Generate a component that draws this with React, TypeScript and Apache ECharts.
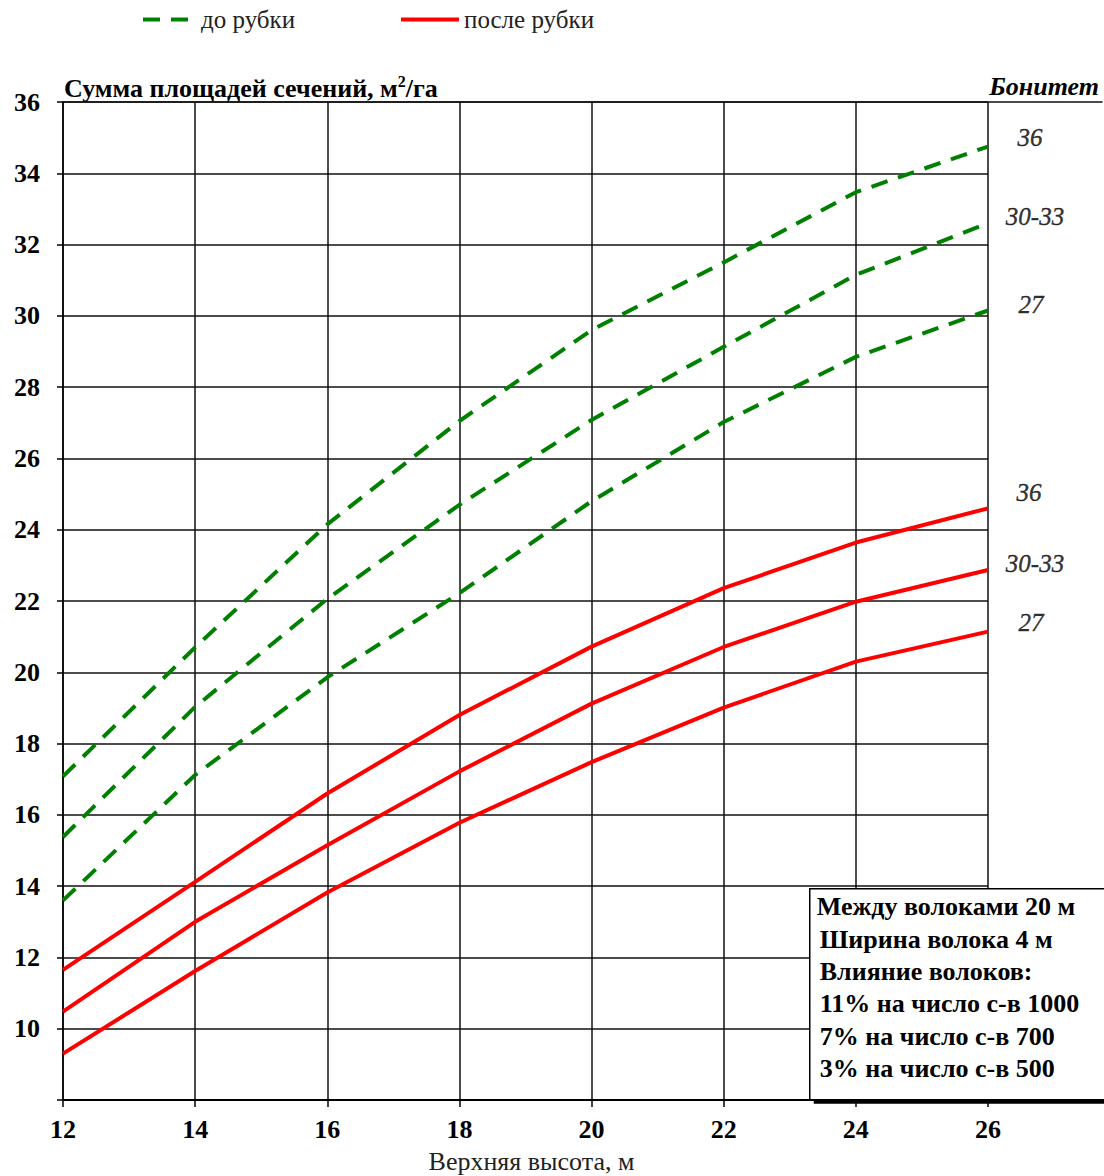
import React, { useEffect, useRef } from 'react';
import * as echarts from 'echarts';

// Верхняя высота, м
const heights = [12, 14, 16, 18, 20, 22, 24, 26];
// до рубки (бонитет 36, 30-33, 27)
const before36 = [17.08, 20.7, 24.15, 27.05, 29.6, 31.5, 33.47, 34.75];
const before3033 = [15.38, 19.03, 22.06, 24.7, 27.08, 29.13, 31.15, 32.6];
const before27 = [13.6, 17.12, 19.86, 22.22, 24.8, 27.02, 28.85, 30.15];
// после рубки
const after36 = [11.65, 14.12, 16.6, 18.8, 20.72, 22.36, 23.64, 24.6];
const after3033 = [10.48, 13.0, 15.15, 17.22, 19.12, 20.71, 21.98, 22.87];
const after27 = [9.3, 11.62, 13.82, 15.78, 17.48, 19.01, 20.3, 21.14];

const bonitetNames = ['36', '30-33', '27'];
const legendNames = ['до рубки', 'после рубки'];
const noteLines = [
  'Между волоками 20 м',
  'Ширина волока 4 м',
  'Влияние волоков:',
  '11% на число с-в 1000',
  '7% на число с-в 700',
  '3% на число с-в 500',
];

const FONT = "'Liberation Serif', 'Times New Roman', serif";

export default function App() {
  const ref = useRef<HTMLDivElement>(null);

  useEffect(() => {
    const chart = echarts.init(ref.current as HTMLDivElement, null, { renderer: 'svg' });
    const green = '#008000';
    const red = '#ff0000';
    const dash = [17, 11];
    const pts = (ys: number[]) => heights.map((h, i) => [h, ys[i]]);
    const last = heights.length - 1;

    const lineSeries = (name: string, ys: number[], color: string, dashed: boolean) => ({
      type: 'line',
      name,
      data: pts(ys),
      symbol: 'none',
      xAxisIndex: 0,
      yAxisIndex: 0,
      clip: false,
      silent: true,
      z: 3,
      itemStyle: { color },
      lineStyle: { color, width: 4, type: dashed ? dash : 'solid', cap: 'butt' },
    });

    const groups = [before36, before3033, before27, after36, after3033, after27];
    const offsets = [
      [42, -9], [47, -7], [43, -6],
      [41, -16], [47, -6], [43, -9],
    ];
    const labelStyle = {
      show: true,
      position: 'inside',
      fontFamily: FONT,
      fontSize: 25,
      fontStyle: 'italic',
      fontWeight: 'normal',
      color: '#000',
      textBorderColor: '#000',
      textBorderWidth: 0.4,
    };
    const labelData = groups.map((ys, i) => ({
      value: [heights[last], ys[last]],
      label: { ...labelStyle, offset: offsets[i], formatter: bonitetNames[i % 3] },
    }));

    const legendCommon = {
      top: 7,
      padding: 0,
      itemHeight: 14,
      selectedMode: false,
      itemStyle: { opacity: 0 },
      lineStyle: { width: 4 },
      textStyle: { fontFamily: FONT, fontSize: 25, color: '#222' },
    };

    chart.setOption({
      animation: false,
      backgroundColor: '#fff',
      title: {
        left: 64,
        top: 73,
        padding: 0,
        text: 'Сумма площадей сечений, м{sup|2}/га',
        textStyle: {
          fontFamily: FONT,
          fontSize: 26,
          fontWeight: 'bold',
          color: '#000',
          rich: {
            sup: { fontFamily: FONT, fontSize: 16, fontWeight: 'bold', color: '#000', verticalAlign: 'top', padding: [0, 0, 14, 0] },
          },
        },
      },
      legend: [
        { ...legendCommon, left: 141, itemWidth: 45, data: [legendNames[0]], textStyle: { ...legendCommon.textStyle, padding: [0, 0, 0, 8] } },
        { ...legendCommon, left: 399, itemWidth: 58, data: [legendNames[1]] },
      ],
      grid: [
        { left: 63, top: 102, width: 925, height: 998, outerBoundsMode: 'none', containLabel: false },
        { left: 63, top: 102, right: 2, height: 998, outerBoundsMode: 'none', containLabel: false },
      ],
      xAxis: [
        {
          type: 'value',
          gridIndex: 0,
          min: 12,
          max: 26,
          interval: 2,
          name: 'Верхняя высота, м',
          nameLocation: 'middle',
          nameGap: 48,
          nameTextStyle: { fontFamily: FONT, fontSize: 26, color: '#222', padding: [0, 0, 0, 12] },
          axisLine: { show: true, lineStyle: { color: '#000', width: 2 } },
          axisTick: { show: true, inside: false, length: 7, lineStyle: { color: '#000', width: 1.5 } },
          axisLabel: { fontFamily: FONT, fontSize: 26, fontWeight: 'bold', color: '#000', margin: 16 },
          splitLine: { show: true, lineStyle: { color: '#111', width: 1.5 } },
        },
        {
          type: 'value',
          gridIndex: 1,
          min: 0,
          max: 1,
          axisLine: { show: true, lineStyle: { color: '#000', width: 2 } },
          axisTick: { show: false },
          axisLabel: { show: false },
          splitLine: { show: false },
        },
        {
          type: 'value',
          gridIndex: 1,
          position: 'top',
          min: 0,
          max: 1,
          axisLine: { show: true, lineStyle: { color: '#111', width: 1.5 } },
          axisTick: { show: false },
          axisLabel: { show: false },
          splitLine: { show: false },
        },
      ],
      yAxis: [
        {
          type: 'value',
          gridIndex: 0,
          min: 8,
          max: 36,
          interval: 2,
          axisLine: { show: true, lineStyle: { color: '#000', width: 1.5 } },
          axisTick: { show: true, inside: false, length: 6, lineStyle: { color: '#000', width: 1.5 } },
          axisLabel: {
            fontFamily: FONT,
            fontSize: 26,
            fontWeight: 'bold',
            color: '#000',
            margin: 23,
            formatter: (v: number) => (v === 8 ? '' : String(v)),
          },
          splitLine: { show: true, lineStyle: { color: '#111', width: 1.5 } },
        },
        {
          type: 'value',
          gridIndex: 1,
          min: 0,
          max: 1,
          show: false,
        },
      ],
      series: [
        lineSeries(legendNames[0], before36, green, true),
        lineSeries(legendNames[0], before3033, green, true),
        lineSeries(legendNames[0], before27, green, true),
        lineSeries(legendNames[1], after36, red, false),
        lineSeries(legendNames[1], after3033, red, false),
        lineSeries(legendNames[1], after27, red, false),
        {
          type: 'scatter',
          name: 'Бонитет',
          xAxisIndex: 0,
          yAxisIndex: 0,
          symbol: 'circle',
          symbolSize: 0,
          itemStyle: { color: '#000' },
          clip: false,
          silent: true,
          z: 5,
          data: labelData,
          label: labelStyle,
        },
      ],
      graphic: [
        {
          type: 'text',
          right: 5,
          top: 73,
          z: 100,
          style: {
            text: 'Бонитет',
            font: `italic bold 26px ${FONT}`,
            fill: '#000',
          },
        },
        {
          type: 'group',
          left: 809,
          top: 888,
          z: 100,
          children: [
            { type: 'rect', z: 100, shape: { x: 4, y: 4, width: 300, height: 211 }, style: { fill: '#000' } },
            { type: 'rect', z: 101, shape: { x: 0, y: 0, width: 300, height: 211 }, style: { fill: '#fff', stroke: '#000', lineWidth: 1.5 } },
            ...noteLines.map((t, i) => ({
              type: 'text',
              z: 102,
              x: i === 0 ? 7 : 10,
              y: 18 + i * 32.4,
              style: {
                text: t,
                font: `bold 26px ${FONT}`,
                fill: '#000',
                verticalAlign: 'middle',
              },
            })),
          ],
        },
      ],
    });

    return () => chart.dispose();
  }, []);

  return (
    <div
      ref={ref}
      style={{ position: 'fixed', left: 0, top: 0, width: 1104, height: 1176, background: '#fff' }}
    />
  );
}
